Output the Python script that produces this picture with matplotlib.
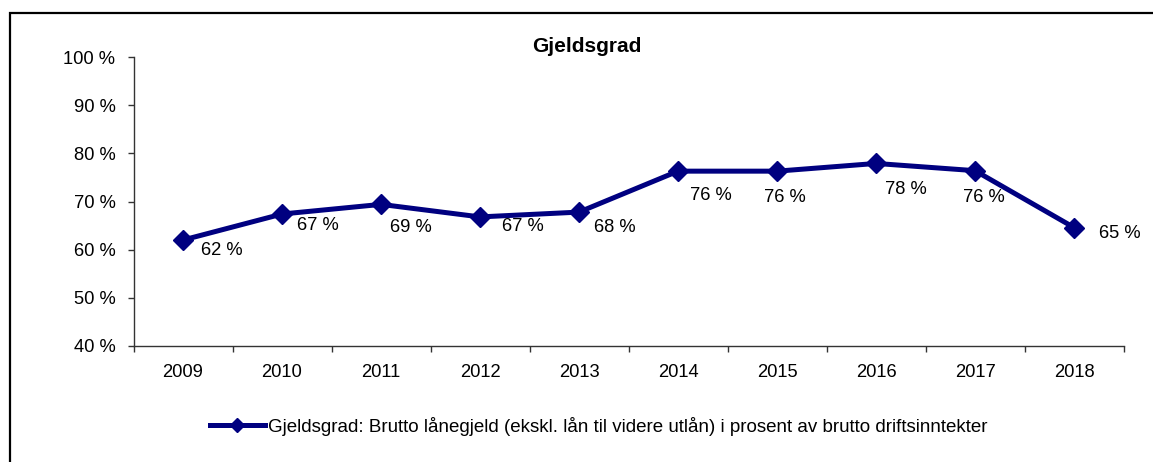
import matplotlib
matplotlib.use("Agg")
import matplotlib.pyplot as plt
from matplotlib.patches import Rectangle
from matplotlib.ticker import FixedLocator, FuncFormatter

plt.rcParams['font.family'] = ['Liberation Sans', 'DejaVu Sans']

years = ['2009', '2010', '2011', '2012', '2013', '2014', '2015', '2016', '2017', '2018']
gjeldsgrad = [0.620, 0.674, 0.694, 0.668, 0.678, 0.763, 0.763, 0.779, 0.764, 0.646]
series_label = 'Gjeldsgrad: Brutto lånegjeld (ekskl. lån til videre utlån) i prosent av brutto driftsinntekter'
title = 'Gjeldsgrad'
yticks = [0.4, 0.5, 0.6, 0.7, 0.8, 0.9, 1.0]

# label offsets (pixels: right, down) relative to each point
label_dx = [38.5, 35.5, 29.5, 43, 35.5, 32.5, 7.5, 30, 9, 45.5]
label_dy = [10, 11, 23, 10, 15, 24, 26, 26, 27, 6]

W, H = 1153, 462
fig = plt.figure(figsize=(W / 100, H / 100), dpi=100)
ax = fig.add_axes([133.5 / W, (H - 346) / H, 990 / W, 289 / H])

color = '#000080'
x = list(range(len(years)))
line, = ax.plot(x, gjeldsgrad, color=color, lw=3.6, marker='D', markersize=10.5,
                label=series_label, solid_joinstyle='round')

for xi, v, dx, dy in zip(x, gjeldsgrad, label_dx, label_dy):
    ax.annotate(f'{round(v * 100):d} %', (xi, v), xytext=(dx * 0.72, -dy * 0.72),
                textcoords='offset points', ha='center', va='center', fontsize=13.2, color='black')

ax.set_xlim(-0.5, len(years) - 0.5)
ax.set_ylim(0.4, 1.0)
ax.set_yticks(yticks)
ax.yaxis.set_major_formatter(FuncFormatter(lambda v, p: f'{round(v * 100):d} %'))
ax.set_xticks(x)
ax.set_xticklabels(years)
ax.xaxis.set_minor_locator(FixedLocator([i - 0.5 for i in range(len(years) + 1)]))
ax.tick_params(axis='x', which='major', length=0, pad=13, labelsize=13.2)
ax.tick_params(axis='x', which='minor', length=4, width=1, color='#333333')
ax.tick_params(axis='y', length=4, width=1, color='#333333', pad=9, labelsize=13.2)

for s in ['top', 'right']:
    ax.spines[s].set_visible(False)
for s in ['left', 'bottom']:
    ax.spines[s].set_color('#333333')
    ax.spines[s].set_linewidth(1)

fig.text(587 / W, 1 - 47 / H, title, ha='center', va='center', fontsize=15, fontweight='bold')

fig.legend(handles=[line], loc='center', bbox_to_anchor=(598.5 / W, 1 - 426 / H),
           frameon=False, fontsize=13.5, handlelength=2.95, handletextpad=0.15, markerscale=0.65)

fig.patches.append(Rectangle((10.5 / W, -0.1), 1.2, (H - 13) / H + 0.1,
                             transform=fig.transFigure, fill=False, edgecolor='black', lw=1.6))

fig.savefig('out.png', dpi=100)
